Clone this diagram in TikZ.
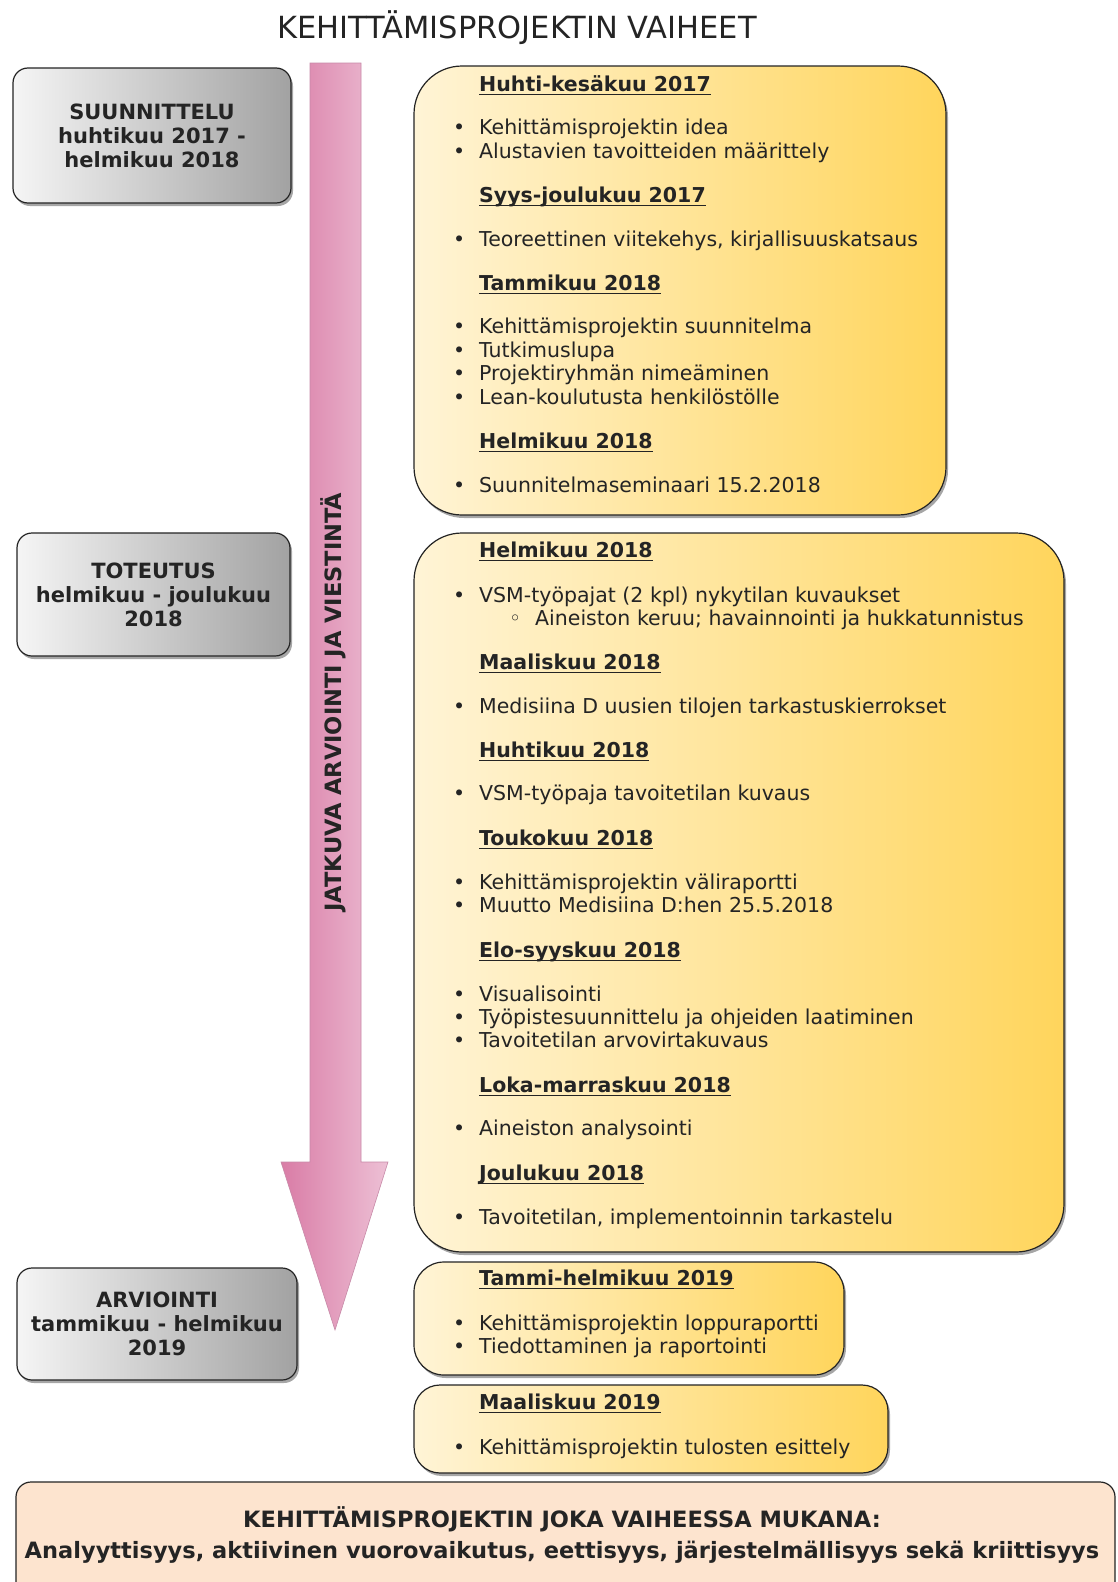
\documentclass[tikz,border=0pt]{standalone}
\usepackage{fontspec}
\setmainfont{DejaVu Sans}
\usetikzlibrary{shadows}

\definecolor{inkdark}{HTML}{242424}
\definecolor{greyL}{HTML}{F5F5F5}
\definecolor{greyR}{HTML}{A2A2A2}
\definecolor{yelL}{HTML}{FFF4D6}
\definecolor{yelR}{HTML}{FFD55C}
\definecolor{pinkL}{HTML}{D97CA6}
\definecolor{pinkR}{HTML}{EDC0D5}
\definecolor{pinkEdge}{HTML}{C78AA8}
\definecolor{peach}{HTML}{FDE4CF}

% underline at a fixed depth below the baseline
\newcommand\ulhead[1]{\sbox0{#1}\rlap{\rule[-3.6pt]{\wd0}{1.3pt}}\usebox0}
% one line of a yellow box: heading, bullet item, sub-item
\newcommand\phead[3]{\node[headtxt] (#1) at (479,#2) {\ulhead{#3}};}
\newcommand\pitem[3]{\node[itemtxt] (#1) at (453,#2) {\makebox[26pt][l]{•}#3};}
\newcommand\psub[3]{\node[itemtxt] (#1) at (509,#2) {\makebox[26pt][l]{◦}#3};}

\begin{document}
\begin{tikzpicture}[x=1pt,y=-1pt,
  softshadow/.style={drop shadow={shadow xshift=2pt,shadow yshift=-3pt,opacity=0.35,fill=black}},
  phasebox/.style={draw=inkdark,line width=1.2pt,rounded corners=15pt,
    left color=greyL,right color=greyR,softshadow,align=center,inner sep=0pt,
    text=inkdark,font=\fontsize{21}{24}\selectfont\bfseries},
  ybox/.style={draw=inkdark,line width=1.2pt,left color=yelL,right color=yelR,
    softshadow,inner sep=0pt},
  headtxt/.style={anchor=mid west,inner sep=0pt,text=inkdark,
    font=\fontsize{20.5}{24}\selectfont\bfseries},
  itemtxt/.style={anchor=mid west,inner sep=0pt,text=inkdark,
    font=\fontsize{20.5}{24}\selectfont},
  bandtxt/.style={text=inkdark,inner sep=0pt,font=\fontsize{22.5}{26}\selectfont\bfseries},
]
\useasboundingbox (0,0) rectangle (1117,1582);
\clip (0,0) rectangle (1117,1582);
\fill[white] (0,0) rectangle (1117,1582);

% title
\node[text=inkdark,font=\fontsize{30.5}{34}\selectfont] (title) at (517,28)
  {KEHITTÄMISPROJEKTIN VAIHEET};

% phase boxes on the left
\node[phasebox,minimum width=278pt,minimum height=135pt] (plan) at (152,135.5)
  {SUUNNITTELU\\huhtikuu 2017 -\\helmikuu 2018};
\node[phasebox,minimum width=273pt,minimum height=123pt] (impl) at (153.5,594.5)
  {TOTEUTUS\\helmikuu - joulukuu\\2018};
\node[phasebox,minimum width=280pt,minimum height=112pt] (eval) at (157,1324)
  {ARVIOINTI\\tammikuu - helmikuu\\2019};

% continuous evaluation arrow
\path[draw=pinkEdge,line width=0.6pt,left color=pinkL,right color=pinkR]
  (310,63) -- (361,63) -- (361,1162) -- (388,1162) -- (335,1330)
  -- (281,1162) -- (310,1162) -- cycle;
\node[rotate=90,text=inkdark,inner sep=0pt,font=\fontsize{22.5}{26}\selectfont\bfseries]
  (flow) at (333,702) {JATKUVA ARVIOINTI JA VIESTINTÄ};

% timeline boxes
\node[ybox,rounded corners=48pt,minimum width=532pt,minimum height=449pt] (y1) at (680,290.5) {};
\node[ybox,rounded corners=48pt,minimum width=650pt,minimum height=719pt] (y2) at (739,892.5) {};
\node[ybox,rounded corners=30pt,minimum width=430pt,minimum height=113pt] (y3) at (629,1318.5) {};
\node[ybox,rounded corners=26pt,minimum width=474pt,minimum height=88pt] (y4) at (651,1429) {};

\phead{a1}{89}{Huhti-kesäkuu 2017}
\pitem{a2}{132}{Kehittämisprojektin idea}
\pitem{a3}{156}{Alustavien tavoitteiden määrittely}
\phead{a4}{200}{Syys-joulukuu 2017}
\pitem{a5}{244}{Teoreettinen viitekehys, kirjallisuuskatsaus}
\phead{a6}{288}{Tammikuu 2018}
\pitem{a7}{331}{Kehittämisprojektin suunnitelma}
\pitem{a8}{355}{Tutkimuslupa}
\pitem{a9}{378}{Projektiryhmän nimeäminen}
\pitem{a10}{402}{Lean-koulutusta henkilöstölle}
\phead{a11}{446}{Helmikuu 2018}
\pitem{a12}{490}{Suunnitelmaseminaari 15.2.2018}

\phead{b1}{555}{Helmikuu 2018}
\pitem{b2}{600}{VSM-työpajat (2 kpl) nykytilan kuvaukset}
\psub{b3}{623}{Aineiston keruu; havainnointi ja hukkatunnistus}
\phead{b4}{667}{Maaliskuu 2018}
\pitem{b5}{711}{Medisiina D uusien tilojen tarkastuskierrokset}
\phead{b6}{755}{Huhtikuu 2018}
\pitem{b7}{798}{VSM-työpaja tavoitetilan kuvaus}
\phead{b8}{843}{Toukokuu 2018}
\pitem{b9}{887}{Kehittämisprojektin väliraportti}
\pitem{b10}{910}{Muutto Medisiina D:hen 25.5.2018}
\phead{b11}{955}{Elo-syyskuu 2018}
\pitem{b12}{999}{Visualisointi}
\pitem{b13}{1022}{Työpistesuunnittelu ja ohjeiden laatiminen}
\pitem{b14}{1045}{Tavoitetilan arvovirtakuvaus}
\phead{b15}{1090}{Loka-marraskuu 2018}
\pitem{b16}{1133}{Aineiston analysointi}
\phead{b17}{1178}{Joulukuu 2018}
\pitem{b18}{1222}{Tavoitetilan, implementoinnin tarkastelu}

\phead{c1}{1283}{Tammi-helmikuu 2019}
\pitem{c2}{1328}{Kehittämisprojektin loppuraportti}
\pitem{c3}{1351}{Tiedottaminen ja raportointi}

\phead{d1}{1407}{Maaliskuu 2019}
\pitem{d2}{1452}{Kehittämisprojektin tulosten esittely}

% principles present in every phase
\path[draw=inkdark,line width=1.2pt,fill=peach,rounded corners=15pt]
  (16,1482) rectangle (1115,1640);
\node[bandtxt] (all1) at (562,1519) {KEHITTÄMISPROJEKTIN JOKA VAIHEESSA MUKANA:};
\node[bandtxt] (all2) at (562,1552)
  {Analyyttisyys, aktiivinen vuorovaikutus, eettisyys, järjestelmällisyys sekä kriittisyys};
\end{tikzpicture}
\end{document}
